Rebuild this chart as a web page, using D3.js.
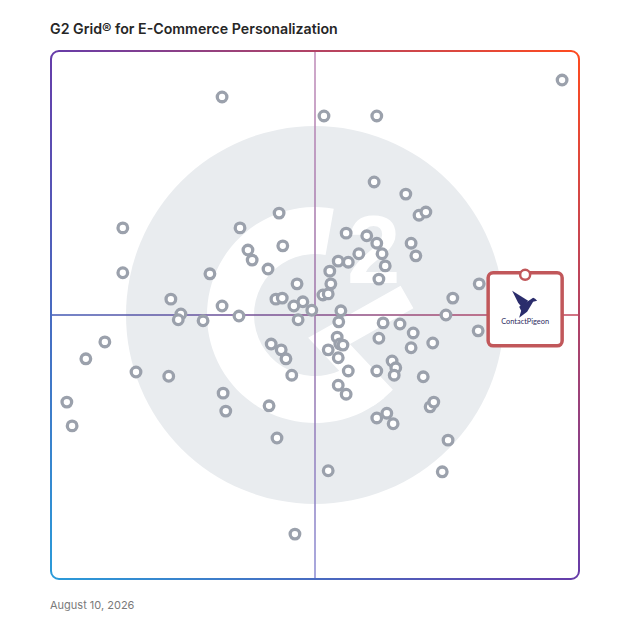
<!DOCTYPE html>
<html>
<head>
<meta charset="utf-8">
<script src="https://cdn.jsdelivr.net/npm/d3@7"></script>
<style>
	body { margin: 0; background: #fff; }
</style>
</head>
<body>
<div id="chart"></div>
<script>
// satisfaction (x) and market presence (y) scores, 0-100
var satisfaction = [
	96.8, 32.4, 51.7, 61.7, 61.2, 67.2, 69.7, 71.0, 43.2, 13.6,
	35.8, 55.9, 59.8, 61.7, 62.7, 63.3, 68.2, 69.1, 37.3, 38.1,
	43.9, 58.3, 54.4, 56.3, 52.8, 41.1, 30.1, 13.6, 62.1, 53.0,
	46.6, 81.1, 76.1, 22.7, 42.6, 43.8, 51.5, 52.5, 47.7, 46.0,
	32.4, 49.4, 24.6, 24.1, 28.8, 35.6, 46.8, 54.9, 54.5, 74.8,
	80.9, 62.9, 66.1, 68.6, 62.1, 72.3, 68.2, 54.2, 54.7, 55.3,
	52.5, 54.4, 41.7, 43.6, 44.5, 45.6, 56.3, 61.7, 64.6, 65.3,
	65.0, 70.5, 54.4, 55.9, 22.3, 16.1, 10.2, 6.6, 3.0, 4.0,
	32.6, 33.1, 41.3, 42.8, 71.8, 72.5, 61.7, 63.6, 64.8, 75.2,
	52.5, 74.1, 46.2
];
var marketPresence = [
	94.5, 91.3, 87.7, 87.7, 75.2, 72.9, 68.9, 69.5, 69.3, 66.5,
	66.5, 65.5, 65.0, 63.6, 61.6, 59.3, 63.6, 61.2, 62.3, 60.4,
	63.1, 61.6, 60.2, 60.0, 58.3, 58.7, 57.8, 58.0, 56.8, 55.9,
	55.9, 55.9, 53.2, 53.0, 53.0, 53.2, 53.8, 54.0, 52.5, 51.7,
	51.7, 50.9, 50.2, 49.1, 48.9, 49.8, 49.1, 50.8, 48.7, 50.0,
	47.0, 48.5, 48.3, 46.6, 45.6, 44.7, 43.8, 45.8, 44.5, 44.3,
	43.4, 41.9, 44.5, 43.4, 41.7, 38.6, 39.4, 39.4, 41.3, 40.0,
	38.6, 38.3, 36.7, 35.0, 38.4, 39.2, 44.9, 41.7, 33.5, 29.0,
	35.2, 31.8, 32.8, 26.7, 32.6, 33.5, 30.5, 31.4, 29.4, 26.3,
	20.5, 20.3, 8.5
];

var highlightName = "ContactPigeon";
var highlightX = 89.8;
var highlightY = 57.6;

var title = "G2 Grid\u00ae for E-Commerce Personalization";
var dateLabel = "August 10, 2026";

var W = 628, H = 628;
var x = d3.scaleLinear().domain([0, 100]).range([51, 579]);
var y = d3.scaleLinear().domain([0, 100]).range([579, 51]);

var points = [];
for (var i = 0; i < satisfaction.length; i++) {
	points.push({sx: satisfaction[i], mp: marketPresence[i]});
}

var vis = d3.select("#chart").append("svg")
	.attr("width", W)
	.attr("height", H);

var defs = vis.append("defs");

var bg = defs.append("linearGradient")
	.attr("id", "borderGrad")
	.attr("gradientUnits", "userSpaceOnUse")
	.attr("x1", x(100)).attr("y1", y(100))
	.attr("x2", x(0)).attr("y2", y(0));
bg.append("stop").attr("offset", 0).attr("stop-color", "#ff4b1f");
bg.append("stop").attr("offset", 0.5).attr("stop-color", "#663ca9");
bg.append("stop").attr("offset", 1).attr("stop-color", "#2a9bd9");

var vg = defs.append("linearGradient")
	.attr("id", "vGrad")
	.attr("gradientUnits", "userSpaceOnUse")
	.attr("x1", 0).attr("y1", y(100))
	.attr("x2", 0).attr("y2", y(0));
vg.append("stop").attr("offset", 0).attr("stop-color", "#bf8bb8");
vg.append("stop").attr("offset", 0.5).attr("stop-color", "#9b72a8");
vg.append("stop").attr("offset", 1).attr("stop-color", "#8a8ad2");

var hg = defs.append("linearGradient")
	.attr("id", "hGrad")
	.attr("gradientUnits", "userSpaceOnUse")
	.attr("x1", x(0)).attr("y1", 0)
	.attr("x2", x(100)).attr("y2", 0);
hg.append("stop").attr("offset", 0).attr("stop-color", "#4159b5");
hg.append("stop").attr("offset", 0.5).attr("stop-color", "#844f8c");
hg.append("stop").attr("offset", 1).attr("stop-color", "#c4465a");

var cx = x(50), cy = y(50);

defs.append("clipPath").attr("id", "gClip")
	.append("circle")
	.attr("cx", cx).attr("cy", cy).attr("r", 108);

// G2 watermark
var logo = vis.append("g");
logo.append("circle")
	.attr("cx", cx).attr("cy", cy).attr("r", 189)
	.attr("fill", "#e9ecef");

var arc = d3.arc()
	.innerRadius(61)
	.outerRadius(108)
	.startAngle(140 * Math.PI / 180)
	.endAngle(370 * Math.PI / 180);

logo.append("path")
	.attr("transform", "translate(" + cx + "," + cy + ")")
	.attr("d", arc())
	.attr("fill", "#fff");

logo.append("text")
	.attr("x", cx + 32)
	.attr("y", cy - 32)
	.attr("font-family", "Liberation Sans")
	.attr("font-weight", "bold")
	.attr("font-size", 96)
	.attr("fill", "#fff")
	.text("2");

logo.append("polyline")
	.attr("clip-path", "url(#gClip)")
	.attr("points", [
		[cx + 92, cy - 18],
		[cx + 14, cy + 26],
		[cx + 80, cy + 96]
	].join(" "))
	.attr("fill", "none")
	.attr("stroke", "#fff")
	.attr("stroke-width", 26)
	.attr("stroke-linejoin", "miter");

// quadrant lines
vis.append("line")
	.attr("x1", cx).attr("x2", cx)
	.attr("y1", y(100)).attr("y2", y(0))
	.attr("stroke", "url(#vGrad)")
	.attr("stroke-width", 1.5);

vis.append("line")
	.attr("x1", x(0)).attr("x2", x(100))
	.attr("y1", cy).attr("y2", cy)
	.attr("stroke", "url(#hGrad)")
	.attr("stroke-width", 1.5);

// frame
vis.append("rect")
	.attr("x", x(0)).attr("y", y(100))
	.attr("width", x(100) - x(0))
	.attr("height", y(0) - y(100))
	.attr("rx", 8)
	.attr("fill", "none")
	.attr("stroke", "url(#borderGrad)")
	.attr("stroke-width", 2);

vis.selectAll("circle.product")
	.data(points)
	.enter()
	.append("circle")
	.attr("class", "product")
	.attr("cx", function(d) { return x(d.sx); })
	.attr("cy", function(d) { return y(d.mp); })
	.attr("r", 4.8)
	.attr("fill", "#fff")
	.attr("stroke", "#9ba1ac")
	.attr("stroke-width", 3.3);

// highlighted product
var hx = x(highlightX), hy = y(highlightY);
var hl = vis.append("g");
hl.append("rect")
	.attr("x", hx - 37).attr("y", hy - 2)
	.attr("width", 74).attr("height", 73)
	.attr("rx", 5)
	.attr("fill", "#fff")
	.attr("stroke", "#c1575a")
	.attr("stroke-width", 3.5);

hl.append("circle")
	.attr("cx", hx).attr("cy", hy)
	.attr("r", 5)
	.attr("fill", "#fff")
	.attr("stroke", "#c1575a")
	.attr("stroke-width", 2.5);

// pigeon mark
var bx = hx - 1, by = hy + 36;
hl.append("path")
	.attr("d", "M" + (bx - 12) + "," + (by - 20) +
		"L" + (bx + 4) + "," + (by - 10) +
		"L" + (bx - 2) + "," + (by - 3) +
		"L" + (bx - 6) + "," + (by - 8) + "Z")
	.attr("fill", "#2b2d6c");
hl.append("path")
	.attr("d", "M" + (bx - 5) + "," + (by - 4) +
		"L" + (bx + 6) + "," + (by - 11) +
		"L" + (bx + 9) + "," + (by - 13) +
		"L" + (bx + 11) + "," + (by - 12) +
		"L" + (bx + 13) + "," + (by - 10) +
		"L" + (bx + 9) + "," + (by - 9) +
		"L" + (bx + 3) + "," + (by + 1) +
		"L" + (bx - 5) + "," + (by + 7) +
		"L" + (bx - 3) + "," + (by) + "Z")
	.attr("fill", "#2b2d6c");

hl.append("text")
	.attr("x", hx)
	.attr("y", by + 13)
	.attr("text-anchor", "middle")
	.attr("font-family", "Lato")
	.attr("font-size", 7.4)
	.attr("fill", "#2d2a5e")
	.text(highlightName);

vis.append("text")
	.attr("x", 50)
	.attr("y", 34)
	.attr("font-family", "Inter")
	.attr("font-weight", 600)
	.attr("font-size", 14.2)
	.attr("fill", "#262626")
	.text(title);

vis.append("text")
	.attr("x", 50)
	.attr("y", 609)
	.attr("font-family", "Inter")
	.attr("font-size", 11)
	.attr("fill", "#7a7a7a")
	.text(dateLabel);
</script>
</body>
</html>
